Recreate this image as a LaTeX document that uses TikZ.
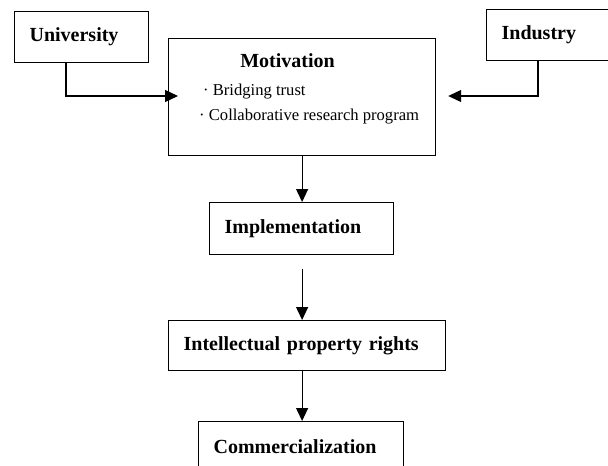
\documentclass[tikz,border=0pt]{standalone}
\usepackage{fontspec}
\setmainfont{Liberation Serif}
\usetikzlibrary{arrows.meta, positioning}

\begin{document}
\begin{tikzpicture}[x=1pt, y=-1pt,
        box/.style={draw, line width=1.2pt, anchor=north west, align=left, inner xsep=15pt, inner ysep=0pt, minimum height=51pt, font=\fontsize{20}{24}\selectfont\bfseries},
        arr/.style={-{Triangle[length=13pt, width=12pt]}, line width=1.2pt}]
        \useasboundingbox (0,0) rectangle (608,466);
        \clip (0,0) rectangle (608,466);

        % Partners
        \node[box, text width=104pt] (uni) at (14,11) {University};
        \node[box, text width=110pt] (ind) at (486,9) {Industry};

        % Motivation block
        \node[draw, line width=1.2pt, anchor=north west, minimum width=267pt, minimum height=117pt, inner sep=0pt] (mot) at (168,38) {};
        \node[font=\fontsize{20}{24}\selectfont\bfseries] (motTitle) at (287.5,61) {Motivation};
        \node[anchor=base west, inner sep=0pt, font=\fontsize{16.6}{20}\selectfont] (motB1) at (203,95) {·\ Bridging trust};
        \node[anchor=base west, inner sep=0pt, font=\fontsize{16.6}{20}\selectfont] (motB2) at (199,120) {·\ Collaborative research program};

        % Stages
        \node[box, text width=154pt, minimum height=52pt] (impl) at (209,202) {Implementation};
        \node[box, text width=247pt, minimum height=50pt] (ipr) at (168,320) {Intellectual property rights};
        \node[box, text width=175pt] (comm) at (198,421) {Commercialization};

        % Arrows
        \coordinate (uBend) at (66,96);
        \coordinate (iBend) at (538,96);
        \draw[arr, shorten >=-10pt] (uni.south -| uBend) |- (mot.west |- uBend);
        \draw[arr, shorten >=12pt] (ind.south -| iBend) |- (mot.east |- iBend);
        \draw[arr] (mot.south) -- (impl.north -| mot.south);
        \draw[arr, shorten <=14pt] (impl.south -| mot.south) -- (ipr.north -| mot.south);
        \draw[arr] (ipr.south -| mot.south) -- (comm.north -| mot.south);
    \end{tikzpicture}
\end{document}
